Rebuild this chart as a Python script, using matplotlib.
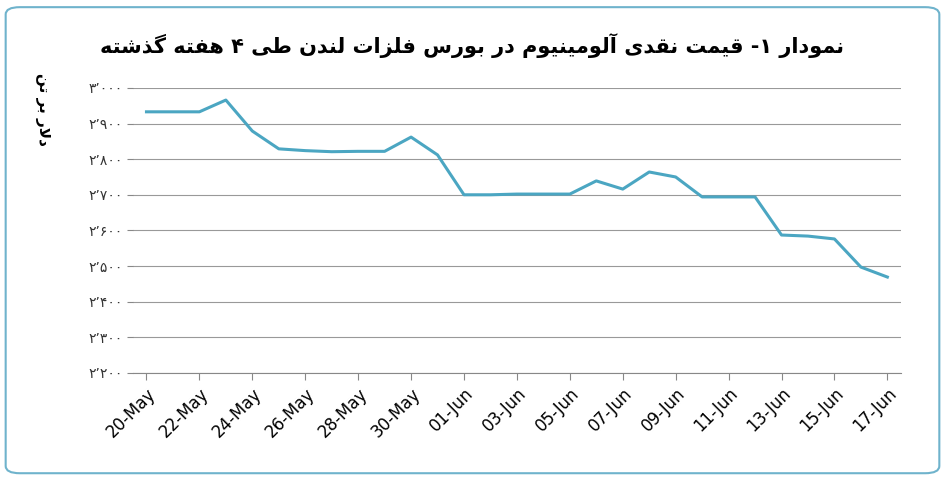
import numpy as np
import matplotlib.pyplot as plt
from matplotlib.patches import FancyBboxPatch

# یک reshaper کوچک برای حروف فارسی (بدون کتابخانه بیرونی)
FORMS = {
    'ا': ('\uFE8D', '\uFE8E', None, None), 'آ': ('\uFE81', '\uFE82', None, None),
    'ب': ('\uFE8F', '\uFE90', '\uFE91', '\uFE92'), 'ت': ('\uFE95', '\uFE96', '\uFE97', '\uFE98'),
    'د': ('\uFEA9', '\uFEAA', None, None), 'ذ': ('\uFEAB', '\uFEAC', None, None),
    'ر': ('\uFEAD', '\uFEAE', None, None), 'ز': ('\uFEAF', '\uFEB0', None, None),
    'س': ('\uFEB1', '\uFEB2', '\uFEB3', '\uFEB4'), 'ش': ('\uFEB5', '\uFEB6', '\uFEB7', '\uFEB8'),
    'ط': ('\uFEC1', '\uFEC2', '\uFEC3', '\uFEC4'), 'ف': ('\uFED1', '\uFED2', '\uFED3', '\uFED4'),
    'ق': ('\uFED5', '\uFED6', '\uFED7', '\uFED8'), 'ل': ('\uFEDD', '\uFEDE', '\uFEDF', '\uFEE0'),
    'م': ('\uFEE1', '\uFEE2', '\uFEE3', '\uFEE4'), 'ن': ('\uFEE5', '\uFEE6', '\uFEE7', '\uFEE8'),
    'ه': ('\uFEE9', '\uFEEA', '\uFEEB', '\uFEEC'), 'و': ('\uFEED', '\uFEEE', None, None),
    'ی': ('\uFBFC', '\uFBFD', '\uFBFE', '\uFBFF'), 'گ': ('\uFB92', '\uFB93', '\uFB94', '\uFB95'),
}


def dual(c):
    return c in FORMS and FORMS[c][2] is not None


def shape(s):
    out = []
    i = 0
    while i < len(s):
        c = s[i]
        prev_join = i > 0 and dual(s[i - 1])
        if c == 'ل' and i + 1 < len(s) and s[i + 1] == 'ا':
            out.append('\uFEFC' if prev_join else '\uFEFB')
            i += 2
            continue
        if c not in FORMS:
            out.append(c)
            i += 1
            continue
        nxt_join = dual(c) and i + 1 < len(s) and s[i + 1] in FORMS
        iso, fin, ini, med = FORMS[c]
        if prev_join and nxt_join:
            out.append(med)
        elif prev_join:
            out.append(fin)
        elif nxt_join:
            out.append(ini)
        else:
            out.append(iso)
        i += 1
    return ''.join(out)[::-1]


title = 'نمودار ۱- قیمت نقدی آلومینیوم در بورس فلزات لندن طی ۴ هفته گذشته'
ylabel = 'دلار بر تن'

dates = ['20-May', '21-May', '22-May', '23-May', '24-May', '25-May', '26-May', '27-May',
         '28-May', '29-May', '30-May', '31-May', '01-Jun', '02-Jun', '03-Jun', '04-Jun',
         '05-Jun', '06-Jun', '07-Jun', '08-Jun', '09-Jun', '10-Jun', '11-Jun', '12-Jun',
         '13-Jun', '14-Jun', '15-Jun', '16-Jun', '17-Jun']
prices = [2933, 2933, 2933, 2966, 2879, 2829, 2824, 2821, 2822, 2822, 2862, 2812, 2700,
          2700, 2702, 2702, 2702, 2739, 2716, 2764, 2750, 2694, 2694, 2694, 2587, 2584,
          2576, 2497, 2469]
yticks = [2200, 2300, 2400, 2500, 2600, 2700, 2800, 2900, 3000]
fa_digits = str.maketrans('0123456789', '۰۱۲۳۴۵۶۷۸۹')
ytick_labels = [f'{v:,}'.translate(fa_digits).replace(',', '٬') for v in yticks]

plt.rcParams['font.family'] = ['DejaVu Sans']
fig = plt.figure(figsize=(9.45, 4.78), dpi=100)
ax = fig.add_axes([0.141, 0.22, 0.812, 0.596])

x = np.arange(len(dates))
ax.plot(x, prices, color='#4ba6c2', lw=2.2)
ax.set_xlim(-0.5, len(dates) - 0.5)
ax.set_ylim(2200, 3000)
ax.set_yticks(yticks)
ax.set_yticklabels(ytick_labels, fontsize=10, color='#333333')
ax.set_xticks(x[::2])
ax.set_xticklabels(dates[::2], rotation=45, ha='right', rotation_mode='anchor', fontsize=12)
ax.grid(axis='y', color='#999999', lw=0.8)
ax.tick_params(axis='x', length=5, color='#888888')
ax.tick_params(axis='y', length=4, color='#888888')
for sp in ['top', 'right']:
    ax.spines[sp].set_visible(False)
ax.spines['left'].set_visible(False)
ax.spines['bottom'].set_color('#888888')

fig.text(0.5, 0.905, shape(title), ha='center', va='center', fontsize=15, fontweight='bold')
fig.text(0.045, 0.77, shape(ylabel), rotation=-90, ha='center', va='center', fontsize=11,
         fontweight='bold')

fig.patches.append(FancyBboxPatch((0.006, 0.01), 0.988, 0.975, boxstyle='round,pad=0,rounding_size=0.015',
                                  transform=fig.transFigure, fill=False, ec='#6fb3cc', lw=1.5))

fig.savefig('out.png', dpi=100)
